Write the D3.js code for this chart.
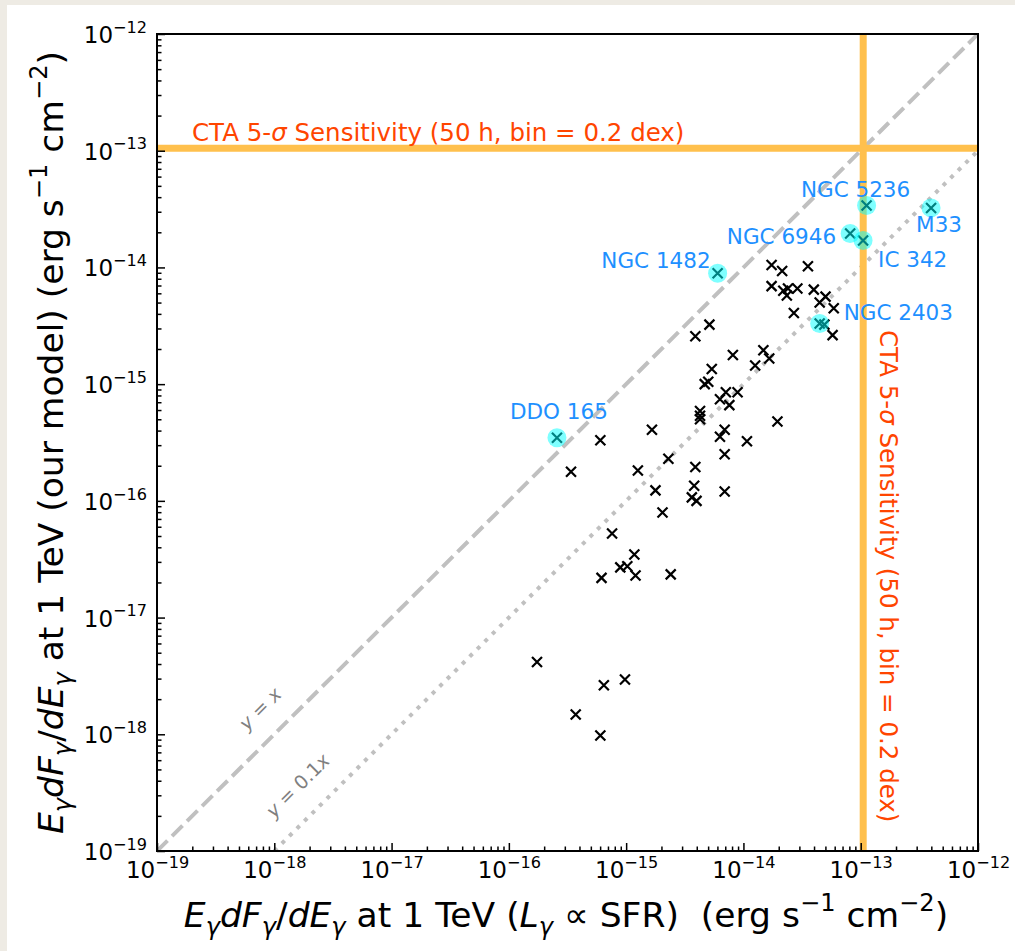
<!DOCTYPE html>
<html>
<head>
<meta charset="utf-8">
<script src="https://cdn.jsdelivr.net/npm/d3@7"></script>
<style>
  body { margin: 0; background: #fff; }
  svg { display: block; font-family: "DejaVu Sans", sans-serif; }
  text { white-space: pre; }
</style>
</head>
<body>
<div id="chart"></div>
<script>
// log10 of E dF/dE at 1 TeV (erg s^-1 cm^-2): x = L ∝ SFR estimate, y = our model
const logSfrFlux = [
  -13.76, -13.67, -13.45, -13.76, -13.66, -13.62, -13.63, -13.54, -13.40, -13.30,
  -13.35, -13.23, -13.57, -13.31, -13.24, -14.29, -14.41, -14.09, -13.83, -13.78,
  -13.90, -14.27, -14.30, -14.33, -14.15, -14.05, -14.20, -14.12, -14.37, -14.37,
  -14.37, -13.71, -14.78, -14.16, -14.20, -13.97, -15.22, -15.47, -14.90, -14.64,
  -14.41, -14.16, -14.42, -14.75, -14.44, -14.40, -14.16, -14.69, -15.12, -14.93,
  -15.05, -14.99, -14.92, -15.21, -14.62, -15.76, -15.19, -15.01, -15.43, -15.22
];
const logModelFlux = [
  -13.98, -14.03, -13.99, -14.16, -14.20, -14.18, -14.24, -14.18, -14.19, -14.25,
  -14.30, -14.35, -14.39, -14.49, -14.58, -14.49, -14.59, -14.75, -14.71, -14.78,
  -14.84, -14.87, -14.98, -15.00, -15.07, -15.07, -15.13, -15.18, -15.23, -15.27,
  -15.30, -15.32, -15.39, -15.39, -15.45, -15.49, -15.48, -15.75, -15.74, -15.64,
  -15.71, -15.60, -15.87, -15.91, -15.97, -16.00, -15.92, -16.10, -16.28, -16.46,
  -16.57, -16.56, -16.64, -16.66, -16.63, -17.38, -17.58, -17.53, -17.83, -18.01
];

// highlighted galaxies
const namedGalaxies = ["DDO 165", "NGC 1482", "NGC 6946", "IC 342", "NGC 5236", "M33", "NGC 2403"];
const namedLogSfr   = [-15.59, -14.22, -13.09, -12.98, -12.95, -12.40, -13.35];
const namedLogModel = [-15.46, -14.05, -13.71, -13.77, -13.47, -13.49, -14.48];

// CTA 5-sigma sensitivity (50 h, 0.2 dex bins)
const ctaSensitivity = 1.05e-13;
const decades = d3.range(-19, -11); // -19 .. -12

// label placement for named galaxies (pixels relative to the marker)
const labelPlace = [
  { anchor: "middle", dx: 2,   dy: -19 },
  { anchor: "end",    dx: -7,  dy: -5 },
  { anchor: "end",    dx: -14, dy: 10 },
  { anchor: "start",  dx: 15,  dy: 26 },
  { anchor: "middle", dx: -11, dy: -9 },
  { anchor: "middle", dx: 8,   dy: 24 },
  { anchor: "start",  dx: 24,  dy: -3 }
];

const W = 1015, H = 951;
const plot = { left: 157, top: 34, right: 978, bottom: 851 };

const svg = d3.select("#chart").append("svg")
  .attr("width", W).attr("height", H);

svg.append("rect").attr("width", W).attr("height", H).attr("fill", "#eeebe4");
svg.append("rect").attr("x", 7).attr("y", 5).attr("width", W - 7).attr("height", H - 5).attr("fill", "#fff");

const x = d3.scaleLog().domain([1e-19, 1e-12]).range([plot.left, plot.right]);
const y = d3.scaleLog().domain([1e-19, 1e-12]).range([plot.bottom, plot.top]);

// writes a mix of plain / italic / sub / sup pieces into a text element
function rich(text, parts, size) {
  let shift = 0;
  parts.forEach(p => {
    const target = p.sub ? size * 0.22 : p.sup ? -size * 0.45 : 0;
    const ts = text.append("tspan").attr("dy", target - shift).text(p.t);
    shift = target;
    if (p.i) ts.attr("font-style", "italic");
    if (p.sub || p.sup) ts.attr("font-size", size * 0.7);
  });
}

svg.append("clipPath").attr("id", "clip")
  .append("rect")
  .attr("x", plot.left).attr("y", plot.top)
  .attr("width", plot.right - plot.left).attr("height", plot.bottom - plot.top);

const body = svg.append("g").attr("clip-path", "url(#clip)");

// reference lines y = x and y = 0.1x
const lineX = [1e-19, 1e-12];
body.append("line")
  .attr("x1", x(lineX[0])).attr("y1", y(lineX[0]))
  .attr("x2", x(lineX[1])).attr("y2", y(lineX[1]))
  .attr("stroke", "#c0c0c0").attr("stroke-width", 4)
  .attr("stroke-dasharray", "14.8,6.4");
body.append("line")
  .attr("x1", x(lineX[0] * 10)).attr("y1", y(lineX[0]))
  .attr("x2", x(lineX[1] * 10)).attr("y2", y(lineX[1]))
  .attr("stroke", "#c0c0c0").attr("stroke-width", 4)
  .attr("stroke-dasharray", "4,6.6");

// CTA sensitivity lines
body.append("line")
  .attr("x1", plot.left).attr("x2", plot.right)
  .attr("y1", y(ctaSensitivity)).attr("y2", y(ctaSensitivity))
  .attr("stroke", "#ffc04d").attr("stroke-width", 7);
body.append("line")
  .attr("y1", plot.top).attr("y2", plot.bottom)
  .attr("x1", x(ctaSensitivity)).attr("x2", x(ctaSensitivity))
  .attr("stroke", "#ffc04d").attr("stroke-width", 7);

// line labels
svg.append("text")
  .attr("transform", `translate(${x(10 ** -18.08)},${y(10 ** -17.82)}) rotate(-45)`)
  .attr("text-anchor", "middle").attr("dy", "0.35em")
  .attr("fill", "#808080").attr("font-size", 19)
  .call(t => rich(t, [{ t: "y", i: 1 }, { t: " = " }, { t: "x", i: 1 }], 19));
svg.append("text")
  .attr("transform", `translate(${x(10 ** -17.76)},${y(10 ** -18.48)}) rotate(-45)`)
  .attr("text-anchor", "middle").attr("dy", "0.35em")
  .attr("fill", "#808080").attr("font-size", 19)
  .call(t => rich(t, [{ t: "y", i: 1 }, { t: " = 0.1" }, { t: "x", i: 1 }], 19));

const ctaParts = [{ t: "CTA 5-" }, { t: "σ", i: 1 }, { t: " Sensitivity (50 h, bin = 0.2 dex)" }];
svg.append("text")
  .attr("x", 192).attr("y", y(ctaSensitivity) - 7)
  .attr("fill", "#ff4500").attr("font-size", 24.5)
  .call(t => rich(t, ctaParts, 24.5));
svg.append("text")
  .attr("transform", `translate(${x(ctaSensitivity) + 17},330) rotate(90)`)
  .attr("fill", "#ff4500").attr("font-size", 24.5)
  .call(t => rich(t, ctaParts, 24.5));

// all galaxies as x markers
const pts = logSfrFlux.map((v, i) => ({ x: 10 ** v, y: 10 ** logModelFlux[i] }));
const named = namedGalaxies.map((n, i) => ({ name: n, x: 10 ** namedLogSfr[i], y: 10 ** namedLogModel[i], place: labelPlace[i] }));
const cross = "M-5,-5L5,5M-5,5L5,-5";

svg.append("g").selectAll("path")
  .data(pts.concat(named))
  .join("path")
  .attr("transform", d => `translate(${x(d.x)},${y(d.y)})`)
  .attr("d", cross)
  .attr("stroke", "#000").attr("stroke-width", 2.2).attr("fill", "none");

svg.append("g").selectAll("circle")
  .data(named)
  .join("circle")
  .attr("cx", d => x(d.x)).attr("cy", d => y(d.y))
  .attr("r", 9.5)
  .attr("fill", "#00ffff").attr("fill-opacity", 0.5);

svg.append("g").selectAll("text")
  .data(named)
  .join("text")
  .attr("x", d => x(d.x) + d.place.dx)
  .attr("y", d => y(d.y) + d.place.dy)
  .attr("text-anchor", d => d.place.anchor)
  .attr("fill", "#1e90ff").attr("font-size", 21.5)
  .text(d => d.name);

// axes: ticks inward, on bottom and left only
const majors = decades.map(k => 10 ** k);
const minors = decades.slice(0, -1).flatMap(k => d3.range(2, 10).map(m => m * 10 ** k));
const tickLabel = v => Math.round(Math.log10(v));

function styleAxis(g) {
  g.select(".domain").remove();
  g.selectAll("line").attr("stroke", "#000").attr("stroke-width", 1.5);
}

svg.append("g").attr("transform", `translate(0,${plot.bottom})`)
  .call(d3.axisBottom(x).tickValues(minors).tickSize(-4.5).tickFormat(""))
  .call(styleAxis);
const xMajor = svg.append("g").attr("transform", `translate(0,${plot.bottom})`)
  .call(d3.axisBottom(x).tickValues(majors).tickSize(-8).tickFormat(tickLabel))
  .call(styleAxis);
xMajor.selectAll("text").each(function (v) {
  const t = d3.select(this).text("").attr("font-size", 23).attr("fill", "#000")
    .attr("font-family", "DejaVu Sans").attr("y", 27).attr("dy", null);
  rich(t, [{ t: "10" }, { t: "−" + (-tickLabel(v)), sup: 1 }], 23);
});

svg.append("g").attr("transform", `translate(${plot.left},0)`)
  .call(d3.axisLeft(y).tickValues(minors).tickSize(-4.5).tickFormat(""))
  .call(styleAxis);
const yMajor = svg.append("g").attr("transform", `translate(${plot.left},0)`)
  .call(d3.axisLeft(y).tickValues(majors).tickSize(-8).tickPadding(10).tickFormat(tickLabel))
  .call(styleAxis);
yMajor.selectAll("text").each(function (v) {
  const t = d3.select(this).text("").attr("font-size", 23).attr("fill", "#000")
    .attr("font-family", "DejaVu Sans").attr("y", 8.5).attr("dy", null);
  rich(t, [{ t: "10" }, { t: "−" + (-tickLabel(v)), sup: 1 }], 23);
});

// frame
svg.append("rect")
  .attr("x", plot.left).attr("y", plot.top)
  .attr("width", plot.right - plot.left).attr("height", plot.bottom - plot.top)
  .attr("fill", "none").attr("stroke", "#000").attr("stroke-width", 2);

// axis titles
const g = "γ";
svg.append("text")
  .attr("x", 566).attr("y", 927)
  .attr("text-anchor", "middle").attr("font-size", 34.5)
  .call(t => rich(t, [
    { t: "E", i: 1 }, { t: g, i: 1, sub: 1 }, { t: "dF", i: 1 }, { t: g, i: 1, sub: 1 },
    { t: "/" }, { t: "dE", i: 1 }, { t: g, i: 1, sub: 1 },
    { t: " at 1 TeV (" }, { t: "L", i: 1 }, { t: g, i: 1, sub: 1 },
    { t: " ∝ SFR)  (erg s" }, { t: "−1", sup: 1 }, { t: " cm" }, { t: "−2", sup: 1 }, { t: ")" }
  ], 34.5));

svg.append("text")
  .attr("transform", `translate(63,${(plot.top + plot.bottom) / 2}) rotate(-90)`)
  .attr("text-anchor", "middle").attr("font-size", 34.5)
  .call(t => rich(t, [
    { t: "E", i: 1 }, { t: g, i: 1, sub: 1 }, { t: "dF", i: 1 }, { t: g, i: 1, sub: 1 },
    { t: "/" }, { t: "dE", i: 1 }, { t: g, i: 1, sub: 1 },
    { t: " at 1 TeV (our model) (erg s" }, { t: "−1", sup: 1 }, { t: " cm" }, { t: "−2", sup: 1 }, { t: ")" }
  ], 34.5));
</script>
</body>
</html>
